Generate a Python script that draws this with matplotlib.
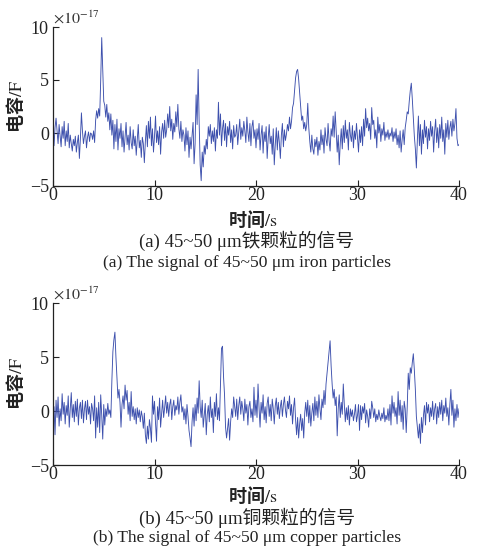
import numpy as np
import matplotlib
matplotlib.use("Agg")
import matplotlib.pyplot as plt

plt.rcParams['mathtext.fontset'] = 'stix'
plt.rcParams['axes.unicode_minus'] = True

# time axis: 0..40 s at 0.1 s steps
time_s = [round(i * 0.1, 1) for i in range(401)]

# iron particle signal, units of 1e-17 F
iron = [
    0.3, -1.2, 0.5, 1.4, 0.2, -1.0, 0.8, -0.3, -1.3, 0.6,
    -0.5, 1.1, -1.2, 0.2, -0.8, 0.9, -1.4, -0.2, -1.0, -1.7,
    -0.6, -1.2, -0.3, -1.8, -0.9, -0.2, -2.4, -0.5, 1.9, 0.2,
    -1.0, -0.3, 0.2, -1.4, -0.4, 0.1, -0.8, 0.0, -0.1, -0.6,
    0.2, -0.9, 1.2, 2.1, 1.4, 2.3, 1.6, 5.0, 9.0, 6.0,
    3.0, 2.6, 1.5, 2.7, 1.1, 1.9, 0.3, 1.8, -0.2, 1.2,
    -1.5, 0.8, -0.8, 1.3, -1.6, 0.4, -0.5, 0.9, -1.3, 0.2,
    -1.8, -0.4, 1.0, -1.1, -0.2, -1.6, 0.6, -0.9, -1.5, 0.3,
    -1.2, -0.3, -2.1, -0.6, 0.8, -1.4, -0.7, -2.3, -0.4, -1.0,
    -2.8, -0.8, 0.7, -1.3, 1.1, -0.5, 1.5, -1.2, 0.4, -1.8,
    -0.3, 1.6, -0.9, 0.2, -1.1, 0.6, -2.0, 0.1, 0.9, -0.5,
    1.2, -0.4, 0.3, 1.8, 0.5, 2.5, 0.2, 1.3, -0.6, 0.9,
    0.1, 2.0, 0.6, 2.7, 0.4, -0.5, 1.1, -0.8, 0.3, -0.2,
    -1.7, 0.5, -1.1, 0.2, -2.3, -0.4, -1.5, -0.2, 1.0, -2.9,
    -1.0, 3.6, 0.8, 6.0, 1.0, -3.0, -4.5, -1.8, -3.2, -1.2,
    -2.0, -0.6, -1.5, 0.6, -0.3, 0.8, -1.0, 0.2, -0.8, 0.5,
    -1.7, 0.3, -0.5, 2.9, -0.2, 1.8, -1.2, 0.4, 1.2, -0.7,
    0.9, -1.3, 0.6, -0.2, 1.1, -0.9, 0.3, -1.5, 0.7, -0.4,
    -0.2, 0.8, -1.1, 0.1, 1.3, -0.6, 0.5, -0.3, 1.1, 0.2,
    -0.9, 1.5, 0.1, -0.8, 0.9, -1.2, 0.6, 1.2, -0.5, 0.3,
    -1.4, 0.4, -0.6, 0.9, -1.6, -0.2, 0.7, -1.9, 0.1, -0.8,
    0.6, -2.4, -0.5, 0.8, -1.0, -0.3, -2.0, 0.4, -3.0, -1.1,
    0.5, -1.6, 0.2, -0.9, -2.4, -0.2, 0.9, -1.3, 0.3, -0.7,
    -0.1, 0.8, 0.2, 1.5, 0.4, 1.1, 2.4, 2.8, 4.0, 5.2,
    5.8, 6.0, 5.1, 3.8, 2.4, 1.2, 1.6, 0.4, 1.0, 0.2,
    0.8, 2.8, 0.5, -0.8, -1.8, -0.2, -1.5, -2.0, -0.6, -1.3,
    -0.4, -2.1, -0.8, -1.6, 0.3, -1.1, -0.2, -1.9, 0.5, -0.6,
    -1.2, 0.9, -0.7, -1.7, 0.4, -0.3, 1.6, -0.4, 2.0, 0.2,
    -1.8, -0.2, -3.0, -1.0, 0.4, -1.5, 0.7, -0.9, 1.2, -0.5,
    0.3, -1.6, 1.0, -0.2, -0.8, 0.7, -1.4, 0.2, -0.6, 0.9,
    -0.5, -1.8, 0.3, -0.9, 0.6, -1.2, 1.3, -0.3, 2.3, 0.5,
    1.4, 0.2, 0.9, -0.6, 2.4, 0.8, 1.2, -0.5, 0.3, -1.4,
    1.5, 0.0, 0.8, -0.8, 0.4, -0.2, 1.0, -0.7, 0.1, -0.4,
    0.3, -0.6, 0.0, -0.3, 0.5, -0.8, 0.1, -0.5, 0.4, -1.1,
    -0.2, -1.4, 0.2, -1.8, -0.6, 0.3, -1.1, 0.5, 1.2, 2.0,
    1.8, 3.0, 4.0, 4.7, 3.2, 1.4, -0.3, -1.5, -3.3, -0.6,
    1.6, -1.2, 0.8, -2.0, 0.3, -1.0, 1.2, -0.4, 0.6, -1.5,
    0.4, -0.7, 1.1, -0.3, 0.6, -1.8, 0.2, 1.3, -0.9, 0.5,
    -1.4, 0.8, -0.5, 1.5, -0.8, 0.3, -2.0, 0.9, -0.4, 1.2,
    -0.6, 0.5, 1.1, -0.3, 1.3, 0.2, 0.9, 2.3, -0.5, -1.2,
    -1.1,
]

# copper particle signal, units of 1e-17 F
copper = [
    -1.8, 0.4, -2.2, 1.0, -0.6, 1.3, -1.4, 0.2, -0.9, 1.6,
    -0.3, 0.8, -1.2, 0.5, -0.4, 1.4, -1.5, 0.2, 1.7, -0.6,
    0.6, -1.0, 0.9, -0.5, 1.1, -1.3, 0.3, 0.8, -0.7, 1.0,
    -1.1, 0.2, 0.9, -0.8, 1.0, -0.3, 0.4, -1.2, 0.7, 0.2,
    -0.9, 1.4, -2.5, 0.3, -1.5, 0.8, -2.0, 1.5, -0.4, -2.6,
    0.6, -1.3, 0.2, -0.5, 0.7, -0.3, 0.1, -0.6, 2.8, 5.5,
    6.6, 7.3, 5.0, 3.0, 1.2, 2.0, 0.8, -1.5, 0.6, 1.4,
    0.2, 2.4, 1.0, 1.9, -0.3, 0.8, -0.9, 1.8, -0.5, 0.4,
    -0.8, 0.2, -1.2, 0.3, -0.6, 0.1, -1.0, 0.0, -0.5, -1.6,
    -0.2, -2.2, -3.0, -1.4, -2.6, -0.8, -1.6, -2.9, 1.4, -0.3,
    0.9, -1.1, -2.8, 0.4, -0.8, 1.2, -1.5, -0.3, 1.0, -0.6,
    0.3, 1.4, -0.2, 0.8, -0.5, 0.6, 1.1, -0.8, 0.4, 1.0,
    -0.4, 0.5, 0.1, 1.3, -0.3, 0.8, 1.5, -0.1, 0.4, -0.8,
    0.2, -1.2, 0.6, -0.5, -1.8, -2.5, -3.3, -1.0, 0.3, -1.4,
    0.6, -0.9, 1.2, -0.2, 2.8, 0.4, -0.6, 1.0, -1.5, -0.4,
    0.7, -2.2, -0.3, 0.5, -1.0, 1.3, -0.6, 0.2, -2.0, 0.8,
    -0.5, 1.6, -0.8, 0.3, -0.9, 2.5, 5.8, 6.0, 3.2, 1.5,
    -1.5, -2.5, -1.6, -0.7, -2.7, -1.0, 0.2, -0.6, 1.3, 0.4,
    -0.5, 1.1, -0.8, 0.5, 1.3, -0.3, 0.9, 0.2, -0.9, 1.1,
    -0.2, 0.6, -1.3, 0.4, 0.9, -0.6, 0.2, -1.0, 2.2, -0.4,
    1.0, -0.6, 2.5, 0.3, -1.5, 0.8, -0.2, 1.5, -0.8, 0.4,
    -1.1, 0.7, 1.3, -0.5, 0.6, -0.9, 1.1, 0.2, -1.2, 0.5,
    1.2, -0.3, 0.8, -0.7, 0.4, 1.0, -0.5, 0.6, 1.3, 0.1,
    -0.6, 0.9, 0.2, 1.4, -0.4, 0.6, -1.2, 0.3, 1.2, -0.8,
    -2.2, -0.6, -2.5, -1.2, -0.3, -1.8, -0.7, -2.5, -0.2, 0.8,
    -0.5, 1.0, -1.1, 0.5, -1.4, -0.2, 0.7, -0.9, 1.3, -0.4,
    0.9, -0.6, 1.5, 0.2, -0.8, 1.1, 0.3, 1.9, 0.6, 2.5,
    3.5, 4.5, 5.5, 6.5, 4.2, 2.5, 1.2, 2.0, 0.5, 1.3,
    -2.3, 0.2, 1.5, -0.6, 0.8, -0.3, 2.5, 0.6, -1.0, 0.3,
    -0.8, 0.5, -1.3, 0.2, -0.5, 0.1, -0.9, -0.3, 0.6, -1.0,
    -0.4, 0.6, -1.8, 0.5, -0.8, 0.4, -0.2, 0.7, -1.1, 0.1,
    -0.5, -1.5, 0.2, -0.7, 0.9, 0.3, -0.6, 0.2, -1.0, -0.3,
    -0.8, 0.1, -0.5, -0.9, -0.2, -0.7, 0.3, -1.0, -0.4, -0.8,
    0.2, -0.9, 0.6, -1.3, 1.4, -0.2, 0.8, -0.5, 0.3, -1.2,
    1.8, -0.4, 1.0, -1.0, 0.5, -1.7, 0.9, 0.2, -2.0, 0.4,
    3.5, 2.0, 4.0, 3.5, 4.5, 5.3, 3.8, 2.0, -0.5, -1.5,
    -2.5, -1.2, -3.0, -0.6, -2.0, -0.4, 0.5, -1.3, 0.8, -0.2,
    0.6, -1.0, 0.3, -0.5, 0.9, -0.8, 0.2, 0.7, -1.2, 0.4,
    -0.6, 0.8, -0.3, 1.0, -0.9, 0.5, -0.2, 1.2, -0.5, 0.3,
    -1.3, 0.6, 2.0, -0.4, 1.0, -1.5, 0.2, -0.9, 0.6, -0.6,
    0.2,
]

x_ticks = [0, 10, 20, 30, 40]
y_ticks = [-5, 0, 5, 10]
ylabel = "电容$\\mathrm{/F}$"
xlabel = "时间$\\mathrm{/s}$"
captions_a = ["(a) 45~50 μm铁颗粒的信号", "(a) The signal of 45~50 μm iron particles"]
captions_b = ["(b) 45~50 μm铜颗粒的信号", "(b) The signal of 45~50 μm copper particles"]

serif_cjk = ['Liberation Serif', 'Noto Sans CJK SC']
W, H = 481, 548
fig = plt.figure(figsize=(W / 100, H / 100), dpi=100)

line_color = '#3d50ad'
ink = '#222222'

def make_panel(bottom_px, top_px, data, caps, xlab_y, cap_y1, cap_y2):
    ax = fig.add_axes([53 / W, 1 - bottom_px / H, 406 / W, (bottom_px - top_px) / H])
    ax.plot(time_s, data, color=line_color, lw=0.65)
    ax.set_xlim(0, 40)
    ax.set_ylim(-5, 10)
    ax.set_xticks(x_ticks)
    ax.set_yticks(y_ticks)
    ax.set_xticklabels([str(t) for t in x_ticks], family='Liberation Serif', fontsize=13)
    ax.set_yticklabels([str(t).replace('-', '\u2212') for t in y_ticks],
                       family='Liberation Serif', fontsize=13)
    ax.tick_params(direction='in', length=4, width=0.8, color=ink, labelcolor=ink)
    ax.tick_params(axis='x', pad=1)
    ax.tick_params(axis='y', pad=3)
    for s in ['top', 'right']:
        ax.spines[s].set_visible(False)
    for s in ['left', 'bottom']:
        ax.spines[s].set_linewidth(0.9)
        ax.spines[s].set_color(ink)
    ax.set_ylabel(ylabel, family=['Noto Sans CJK SC'], fontsize=13, fontweight='bold',
                  labelpad=3, color=ink)
    ax.text(0.0, 1.0, r"$\times10^{-17}$", transform=ax.transAxes,
            fontsize=11.5, ha='left', va='bottom', color='#333333')
    fig.text(253 / W, 1 - xlab_y / H, xlabel, family=['Noto Sans CJK SC'], fontsize=13,
             fontweight='bold', ha='center', va='center', color=ink)
    fig.text(247 / W, 1 - cap_y1 / H, caps[0], family=serif_cjk, fontsize=13.5,
             ha='center', va='center', color=ink)
    fig.text(247 / W, 1 - cap_y2 / H, caps[1], family=serif_cjk, fontsize=12.6,
             ha='center', va='center', color=ink)
    return ax

make_panel(186, 27, iron, captions_a, 219, 241, 263)
make_panel(465, 303, copper, captions_b, 495, 518, 538)

fig.savefig("out.png", dpi=100)
